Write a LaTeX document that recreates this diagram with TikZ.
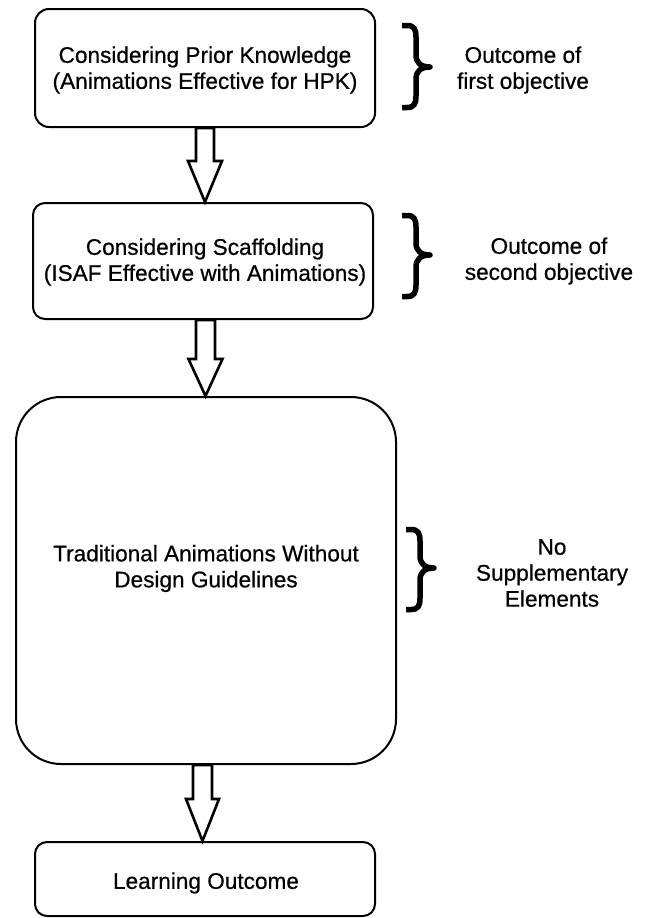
\documentclass[tikz,border=0pt]{standalone}
\usepackage{fontspec}
\setmainfont[FakeBold=0.6]{Liberation Sans}
\usetikzlibrary{calc}
\begin{document}
\begin{tikzpicture}[x=1pt,y=-1pt,
  box/.style={draw=black, line width=2pt, fill=white, inner sep=0pt},
  txt/.style={align=center, inner sep=0pt, font=\fontsize{22.6}{26}\selectfont},
  barrow/.style={draw=black, line width=2.6pt, fill=white, line join=miter},
  bracepath/.style={draw=black, line width=5.5pt, line cap=butt, line join=round}]
\useasboundingbox (0,0) rectangle (647,918);
% boxes
\node[box, minimum width=340pt, minimum height=118pt, rounded corners=14pt] (b1) at (205,68) {};
\node[box, minimum width=340pt, minimum height=116pt, rounded corners=12pt] (b2) at (203,261) {};
\node[box, minimum width=380pt, minimum height=367pt, rounded corners=45pt] (b3) at (206,580.5) {};
\node[box, minimum width=340pt, minimum height=74pt, rounded corners=12pt] (b4) at (205,879) {};
% box texts
\node[txt] (t1) at (205,70) {Considering Prior Knowledge\\(Animations Effective for HPK)};
\node[txt] (t2) at (205,262) {Considering Scaffolding\\(ISAF Effective with Animations)};
\node[txt] (t3) at (206,568.5) {Traditional Animations Without\\Design Guidelines};
\node[txt] (t4) at (206,883) {Learning Outcome};
% block arrows
\coordinate (a1) at ($(b1.south)+(0,0)$);
\draw[barrow] ($(a1)+(-9,0)$) -- ($(a1 |- b2.north)+(-9,-41)$) -- ($(a1 |- b2.north)+(-17,-41)$) -- (a1 |- b2.north) -- ($(a1 |- b2.north)+(17,-41)$) -- ($(a1 |- b2.north)+(9,-41)$) -- ($(a1)+(9,0)$) -- cycle;
\coordinate (a2) at ($(b2.south)+(2.5,0)$);
\draw[barrow] ($(a2)+(-9.5,0)$) -- ($(a2 |- b3.north)+(-9.5,-37)$) -- ($(a2 |- b3.north)+(-17,-37)$) -- (a2 |- b3.north) -- ($(a2 |- b3.north)+(17,-37)$) -- ($(a2 |- b3.north)+(9.5,-37)$) -- ($(a2)+(9.5,0)$) -- cycle;
\coordinate (a3) at ($(b3.south)+(-3.5,0)$);
\draw[barrow] ($(a3)+(-9.5,0)$) -- ($(a3 |- b4.north)+(-9.5,-42)$) -- ($(a3 |- b4.north)+(-16.5,-42)$) -- (a3 |- b4.north) -- ($(a3 |- b4.north)+(16.5,-42)$) -- ($(a3 |- b4.north)+(9.5,-42)$) -- ($(a3)+(9.5,0)$) -- cycle;
% braces
\newcommand\bracedraw[4]{% left x, top y, mid y, bottom y
  \draw[bracepath] ({#1+1},{#2+2.5}) -- ({#1+6},{#2+2.5})
    .. controls ({#1+13},{#2+2.5}) and ({#1+15},{#2+6}) .. ({#1+15},{#2+14})
    -- ({#1+15},{#3-12})
    .. controls ({#1+15},{#3-4}) and ({#1+20},{#3}) .. ({#1+29},{#3})
    .. controls ({#1+20},{#3}) and ({#1+15},{#3+4}) .. ({#1+15},{#3+12})
    -- ({#1+15},{#4-14})
    .. controls ({#1+15},{#4-6}) and ({#1+13},{#4-2.5}) .. ({#1+6},{#4-2.5})
    -- ({#1+1},{#4-2.5});}
\bracedraw{401}{23}{67}{110}
\bracedraw{401}{213}{255}{299}
\bracedraw{405}{527}{568}{612}
% right texts
\node[txt] (r1) at (523,70) {Outcome of\\first objective};
\node[txt] (r2) at (549,261) {Outcome of\\second objective};
\node[txt] (r3) at (552,573) {No\\Supplementary\\Elements};
\end{tikzpicture}
\end{document}
